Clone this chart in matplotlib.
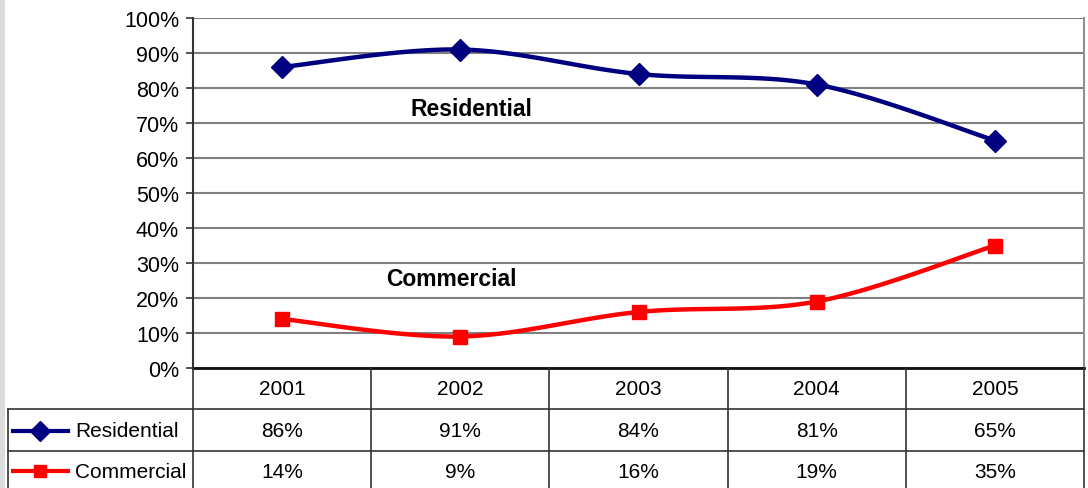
import numpy as np
import matplotlib
matplotlib.use('Agg')
import matplotlib.pyplot as plt
from matplotlib.lines import Line2D
from matplotlib.patches import Rectangle

plt.rcParams['font.family'] = ['Liberation Sans', 'DejaVu Sans']

years = ['2001', '2002', '2003', '2004', '2005']
residential = [86, 91, 84, 81, 65]
commercial = [14, 9, 16, 19, 35]
series_names = ['Residential', 'Commercial']
series_colors = ['#000080', '#ff0000']
series_markers = ['D', 's']

W, H = 1088, 489


def fx(px):
    return px / W


def fy(py):
    return 1 - py / H


##
# Excel style smoothing (Catmull-Rom as bezier)
##
def smooth(x, y, n=30):
    x = np.asarray(x, float)
    y = np.asarray(y, float)
    px = np.concatenate([[x[0]], x, [x[-1]]])
    py = np.concatenate([[y[0]], y, [y[-1]]])
    out_x, out_y = [], []
    t = np.linspace(0, 1, n)
    for i in range(1, len(px) - 2):
        p0 = np.array([px[i], py[i]])
        p3 = np.array([px[i + 1], py[i + 1]])
        p1 = p0 + (np.array([px[i + 1], py[i + 1]]) - np.array([px[i - 1], py[i - 1]])) / 6
        p2 = p3 - (np.array([px[i + 2], py[i + 2]]) - np.array([px[i], py[i]])) / 6
        b = ((1 - t) ** 3)[:, None] * p0 + (3 * (1 - t) ** 2 * t)[:, None] * p1 \
            + (3 * (1 - t) * t ** 2)[:, None] * p2 + (t ** 3)[:, None] * p3
        out_x.extend(b[:, 0])
        out_y.extend(b[:, 1])
    return out_x, out_y


fig = plt.figure(figsize=(W / 100, H / 100), dpi=100)
fig.patch.set_facecolor('white')
fig.add_artist(Rectangle((0, 0), fx(5), 1, transform=fig.transFigure,
                         facecolor='#dcdcdc', edgecolor='none'))

left, right, top, bottom = 193, 1084, 19, 369
ax = fig.add_axes([fx(left), fy(bottom), fx(right - left), fy(top) - fy(bottom)])
ax.set_xlim(-0.5, len(years) - 0.5)
ax.set_ylim(0, 100)
ax.set_yticks(range(0, 101, 10))
ax.set_yticklabels([f'{v}%' for v in range(0, 101, 10)], fontsize=15.5)
ax.set_xticks([])
ax.yaxis.grid(True, color='#808080', linewidth=1.5)
ax.set_axisbelow(True)
ax.tick_params(axis='y', length=5, width=1.2, color='#333333', pad=5)
ax.spines['top'].set_visible(False)
ax.spines['right'].set_color('#909090')
ax.spines['right'].set_linewidth(1.5)
ax.spines['left'].set_color('#333333')
ax.spines['left'].set_linewidth(1.5)
ax.spines['bottom'].set_color('#111111')
ax.spines['bottom'].set_linewidth(2)

xs = np.arange(len(years))
for vals, c, m in zip([residential, commercial], series_colors, series_markers):
    sx, sy = smooth(xs, vals)
    ax.plot(sx, sy, color=c, linewidth=3.2, zorder=3)
    ax.plot(xs, vals, linestyle='none', marker=m, color=c,
            markersize=10 if m == 's' else 11, zorder=4)

ax.text(1.06, 74, 'Residential', fontsize=16.5, fontweight='bold', ha='center', va='center')
ax.text(0.95, 25.5, 'Commercial', fontsize=16.5, fontweight='bold', ha='center', va='center')

# data table under the chart
row_lines = [369, 410, 452]
col_lines = [193 + i * (right - left) / len(years) for i in range(len(years) + 1)]
lc = '#333333'
for x in col_lines:
    fig.add_artist(Line2D([fx(x), fx(x)], [fy(369), fy(H + 5)], color=lc, linewidth=1.2))
fig.add_artist(Line2D([fx(8), fx(8)], [fy(410), fy(H + 5)], color=lc, linewidth=1.2))
for y in row_lines[1:]:
    fig.add_artist(Line2D([fx(8), fx(right)], [fy(y), fy(y)], color=lc, linewidth=1.2))

row_centers = [390, 432, 472]
for i, yr in enumerate(years):
    cx = (col_lines[i] + col_lines[i + 1]) / 2
    fig.text(fx(cx), fy(row_centers[0]), yr, fontsize=15, ha='center', va='center')
    fig.text(fx(cx), fy(row_centers[1]), f'{residential[i]}%', fontsize=15, ha='center', va='center')
    fig.text(fx(cx), fy(row_centers[2]), f'{commercial[i]}%', fontsize=15, ha='center', va='center')

for name, c, m, yc in zip(series_names, series_colors, series_markers, row_centers[1:]):
    fig.add_artist(Line2D([fx(13), fx(68)], [fy(yc), fy(yc)], color=c, linewidth=3))
    fig.add_artist(Line2D([fx(40)], [fy(yc)], color=c, marker=m, linestyle='none',
                          markersize=9 if m == 's' else 10))
    fig.text(fx(75), fy(yc), name, fontsize=15, ha='left', va='center')

fig.savefig('out.png', dpi=100)
